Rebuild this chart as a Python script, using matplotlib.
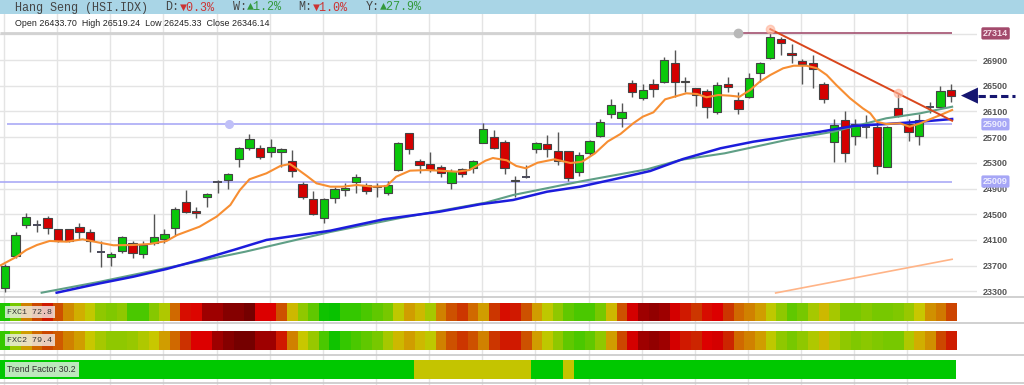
import matplotlib
matplotlib.use("Agg")
import matplotlib.pyplot as plt
import numpy as np
from matplotlib.colors import LinearSegmentedColormap
from matplotlib.patches import Rectangle, Polygon
from matplotlib.lines import Line2D
from matplotlib.transforms import blended_transform_factory

plt.rcParams['font.family'] = ['Liberation Sans', 'DejaVu Sans']

# ---------------- data ----------------
opens = [23353, 23850, 24328, 24340, 24437, 24270, 24270, 24301, 24228, 23915,
         23830, 23933, 24058, 23877, 24048, 24111, 24291, 24695, 24550, 24764,
         24999, 25033, 25355, 25536, 25526, 25474, 25464, 25329, 24971, 24737,
         24437, 24748, 24877, 24997, 24955, 24940, 24826, 25184, 25759, 25324,
         25282, 25235, 24982, 25209, 25215, 25613, 25707, 25619, 25035, 25082,
         25511, 25593, 25489, 25484, 25153, 25448, 25718, 26055, 25993, 26537,
         26313, 26527, 26562, 26858, 26573, 26460, 26422, 26086, 26527, 26278,
         26329, 26693, 26926, 27222, 27004, 26889, 26858, 26522, 25629, 25966,
         25722, 25858, 25862, 25240, 26148, 25904, 25722, 26166, 26164, 26433.70]
highs = [23730, 24219, 24524, 24410, 24473, 24275, 24275, 24369, 24265, 24084,
         23917, 24162, 24084, 24084, 24504, 24265, 24617, 24877, 24617, 24827,
         25033, 25142, 25545, 25744, 25578, 25666, 25526, 25500, 25006, 24866,
         24748, 24929, 24991, 25122, 24982, 24982, 25022, 25629, 25769, 25360,
         25474, 25266, 25204, 25224, 25344, 25915, 25811, 25655, 25095, 25266,
         25629, 25733, 25785, 25489, 25464, 25655, 25982, 26288, 26236, 26589,
         26527, 26600, 26951, 27056, 26631, 26469, 26449, 26562, 26640, 26407,
         26693, 26874, 27314, 27253, 27144, 26911, 26978, 26562, 25977, 26111,
         25977, 26044, 25940, 25873, 26371, 25977, 26055, 26251, 26495, 26519.24]
lows = [23283, 23825, 24281, 24228, 24193, 24068, 24068, 24111, 23917, 23684,
        23699, 23892, 23815, 23815, 24026, 24048, 24177, 24515, 24446, 24617,
        24835, 24893, 25235, 25500, 25355, 25396, 25240, 25075, 24737, 24488,
        24359, 24680, 24784, 24826, 24815, 24774, 24800, 25168, 25437, 25147,
        25163, 25075, 24889, 25075, 25137, 25604, 25511, 25126, 24774, 25060,
        25458, 25396, 25266, 25017, 25095, 25422, 25697, 26002, 25862, 26320,
        26278, 26320, 26537, 26320, 26407, 26184, 25993, 26055, 26407, 26055,
        26313, 26553, 26911, 26978, 26858, 26527, 26469, 26236, 25318, 25318,
        25578, 25682, 25126, 25230, 26008, 25644, 25578, 26071, 26148, 26245.33]
closes = [23700, 24172, 24462, 24335, 24286, 24084, 24084, 24228, 24084, 23910,
          23881, 24141, 23902, 24022, 24141, 24198, 24586, 24530, 24515, 24820,
          24995, 25126, 25531, 25666, 25396, 25552, 25521, 25178, 24774, 24504,
          24733, 24898, 24913, 25075, 24866, 24925, 24955, 25613, 25520, 25271,
          25184, 25137, 25173, 25122, 25333, 25822, 25536, 25215, 25010, 25077,
          25613, 25511, 25329, 25060, 25422, 25635, 25931, 26200, 26086, 26407,
          26433, 26444, 26900, 26562, 26553, 26355, 26164, 26511, 26485, 26133,
          26615, 26858, 27260, 27160, 26973, 26838, 26755, 26289, 25884, 25448,
          25904, 25862, 25255, 25862, 26029, 25784, 25966, 26162, 26422, 26346.14]

# fast moving average (orange), sampled along the line
ma_fast_idx = [-0.4, 1.1, 2.0, 3.0, 4.2, 5.8, 7.3, 8.9, 10.2, 12.0, 13.6, 15.2, 16.2, 18.3,
               19.9, 21.2, 22.1, 23.0, 24.6, 25.9, 26.8, 27.4, 28.4, 29.3, 30.6, 31.8, 33.1,
               34.6, 35.9, 36.8, 38.1, 39.7, 40.9, 42.5, 43.7, 45.2, 45.9, 47.2, 48.1, 49.0,
               50.1, 51.7, 53.2, 54.3, 55.5, 56.7, 57.9, 59.1, 60.0, 61.0, 62.1, 63.2, 64.1,
               65.1, 66.0, 67.1, 68.2, 69.1, 70.1, 71.0, 72.0, 73.2, 74.2, 75.4, 76.4, 77.3,
               78.2, 79.5, 80.7, 81.4, 82.0, 82.9, 84.2, 85.1, 86.1, 87.0, 88.0, 89.1]
ma_fast_val = [23706, 23839, 23944, 24021, 24084, 24073, 24110, 24057, 24017, 24021, 24037,
               24084, 24177, 24306, 24462, 24644, 24877, 25044, 25137, 25251, 25282, 25215,
               25095, 24981, 24929, 24929, 24955, 24929, 24939, 25084, 25178, 25188, 25178,
               25162, 25188, 25333, 25375, 25339, 25251, 25215, 25302, 25355, 25297, 25318,
               25448, 25632, 25749, 25915, 26018, 26086, 26288, 26340, 26382, 26371, 26320,
               26355, 26345, 26329, 26433, 26562, 26667, 26771, 26811, 26811, 26771, 26667,
               26511, 26304, 26148, 26071, 25940, 25904, 25915, 25862, 25915, 25977, 26044,
               26122]

# slow moving average (blue)
ma_blue_idx = [4.86, 8.94, 12.07, 15.2, 18.3, 21.5, 24.6, 27.8, 30.6, 35.6, 40.9, 44.7, 47.8,
               51.0, 54.1, 57.4, 60.7, 63.8, 67.3, 70.4, 73.5, 76.7, 79.8, 82.9, 86.1, 89.1]
ma_blue_val = [23279, 23425, 23528, 23648, 23788, 23944, 24100, 24177, 24244, 24421, 24540,
               24655, 24722, 24851, 24929, 25048, 25173, 25360, 25526, 25629, 25707, 25784,
               25873, 25904, 25940, 25982]

# medium-slow moving average (teal)
ma_teal_idx = [3.45, 8.94, 15.2, 22.6, 30.6, 37.2, 45.2, 47.8, 54.1, 60.4, 63.5, 67.7, 73.5,
               77.9, 82.9, 86.1, 89.1]
ma_teal_val = [23279, 23450, 23664, 23917, 24224, 24442, 24680, 24799, 25009, 25199, 25344,
               25448, 25655, 25784, 25993, 26071, 26173]

# very slow moving average (light orange)
ma_long_idx = [72.5, 89.1]
ma_long_val = [23275, 23799]

# descending trend line through highs
trend_idx = [72, 84, 89.1]
trend_val = [27380, 26380, 25955]

# horizontal levels
level_high = 27314
level_high_start = 69
level_mid = 25900
level_mid_dot = 21.07
level_low = 25009

price_ticks = [23300, 23700, 24100, 24500, 24900, 25300, 25700, 26100, 26500, 26900]
grid_levels = price_ticks + [27300]

# oscillator strips (0-100)
fxc1 = [10, 30, 60, 72, 80, 70, 58, 52, 46, 35,
        32, 35, 20, 20, 33, 42, 65, 82, 83, 90,
        90, 94, 94, 97, 84, 84, 70, 50, 35, 25,
        5, 3, 15, 15, 20, 25, 30, 45, 55, 50,
        40, 60, 70, 75, 65, 55, 75, 82, 80, 70,
        55, 45, 35, 25, 20, 20, 30, 50, 70, 85,
        90, 92, 90, 85, 80, 75, 82, 84, 75, 65,
        60, 55, 45, 35, 25, 30, 40, 50, 40, 30,
        30, 33, 30, 30, 32, 37, 47, 57, 62, 72.8]
fxc2 = [15, 38, 55, 65, 72, 68, 60, 55, 47, 40,
        35, 35, 37, 42, 47, 55, 65, 76, 84, 84,
        90, 94, 97, 97, 90, 90, 80, 60, 47, 37,
        20, 5, 15, 20, 25, 30, 40, 50, 55, 50,
        45, 60, 70, 75, 70, 60, 75, 80, 80, 70,
        55, 45, 35, 25, 20, 25, 35, 55, 72, 85,
        90, 92, 90, 85, 80, 78, 84, 85, 78, 65,
        60, 55, 45, 35, 30, 35, 42, 50, 42, 35,
        32, 34, 32, 30, 30, 42, 52, 57, 72, 79.4]
fxc1_label = "FXC1 72.8"
fxc2_label = "FXC2 79.4"
trend_runs = [(39, 'up'), (11, 'flat'), (3, 'up'), (1, 'flat'), (36, 'up')]
trend_label = "Trend Factor 30.2"

# ---------------- figure ----------------
W, H = 1024, 385
fig = plt.figure(figsize=(W / 100, H / 100), dpi=100)
fig.patch.set_facecolor('white')


def fx(px):
    return px / W


def fy(py):
    return 1 - py / H


n = len(closes)
idx = np.arange(n)
XMIN, XMAX = -0.47, 91.44
YMIN, YMAX = 23212, 27616
PLOT_R = 977

# header bar
fig.patches.append(Rectangle((0, fy(14)), 1, 14 / H, transform=fig.transFigure,
                             facecolor='#a9d5e6', edgecolor='none', zorder=0))
mono = ['Liberation Mono', 'DejaVu Sans Mono']
fig.text(fx(15), fy(7.5), "Hang Seng (HSI.IDX)", family=mono, fontsize=8.5,
         color='#454545', va='center')
hdr = [(165.5, "D:", "\u25bc0.3%", '#cc3333'), (233, "W:", "\u25b21.2%", '#33993a'),
       (298.5, "M:", "\u25bc1.0%", '#cc3333'), (366, "Y:", "\u25b227.9%", '#33993a')]
for x0, k, v, c in hdr:
    fig.text(fx(x0), fy(7.5), k, family=mono, fontsize=8.5, color='#454545', va='center')
    fig.text(fx(x0 + 14.2), fy(7.5), v, family=mono, fontsize=8.5, color=c, va='center')

fig.text(fx(15), fy(23.5), "Open 26433.70  High 26519.24  Low 26245.33  Close 26346.14",
         fontsize=6.4, color='#222222', va='center')

# background axes for vertical grid
bg = fig.add_axes([0, 0, fx(PLOT_R), fy(14)])
bg.set_xlim(XMIN, XMAX)
bg.set_ylim(0, 1)
bg.axis('off')
for g in np.arange(0, 90, 5) - 0.1:
    bg.axvline(g, color='#e4e4e4', lw=1.0, zorder=0)

# main axes
ax = fig.add_axes([0, fy(297), fx(PLOT_R), (297 - 14) / H])
ax.set_facecolor('none')
ax.set_xlim(XMIN, XMAX)
ax.set_ylim(YMIN, YMAX)
for s in ax.spines.values():
    s.set_visible(False)
ax.set_xticks([])
for lv in grid_levels:
    ax.axhline(lv, color='#e4e4e4', lw=1.0, zorder=0)
ax.yaxis.tick_right()
ax.set_yticks(price_ticks)
ax.set_yticklabels([str(t) for t in price_ticks], fontsize=6.5, color='#555555',
                   fontweight='bold')
ax.tick_params(axis='y', length=0, pad=4.3)

# level lines
ax.hlines(level_low, XMIN, 89.1, color='#aaaaf6', lw=1.2, zorder=1)
ax.hlines(level_mid, 0.19, 89.1, color='#aaaaf6', lw=1.2, zorder=1)
ax.plot([level_mid_dot], [level_mid], 'o', ms=5.5, color='#c0c0f8', zorder=2)
ax.hlines(level_high, XMIN, level_high_start, color='#d2d2d2', lw=2.0, zorder=1)
ax.hlines(level_high, level_high_start, 89.1, color='#a3506f', lw=1.2, zorder=1)
ax.plot([level_high_start], [level_high], 'o', ms=6, color='#b8b8b8', zorder=2)

# candles
bw = 0.78
for i in range(n):
    o, h, l, c = opens[i], highs[i], lows[i], closes[i]
    ax.vlines(i, l, h, color='#555555', lw=1.0, zorder=3)
    if abs(c - o) < 15:
        ax.hlines(o, i - bw / 2, i + bw / 2, color='#4a4a5a', lw=1.4, zorder=4)
        continue
    col = '#0ac80a' if c > o else '#d40000'
    ax.add_patch(Rectangle((i - bw / 2, min(o, c)), bw, abs(c - o), facecolor=col,
                           edgecolor='#444444', lw=0.8, zorder=4))

# moving averages
ax.plot(ma_long_idx, ma_long_val, color='#ffb487', lw=1.2, zorder=5)
ax.plot(ma_teal_idx, ma_teal_val, color='#5f9f86', lw=1.5, zorder=5)
ax.plot(ma_blue_idx, ma_blue_val, color='#1c1cdc', lw=1.8, zorder=5)
ax.plot(ma_fast_idx, ma_fast_val, color='#f78e32', lw=1.5, zorder=6)

# trend line
ax.plot(trend_idx, trend_val, color='#d9461c', lw=1.4, zorder=7)
ax.plot(trend_idx[:2], trend_val[:2], 'o', ms=6, color='#ffb49a', alpha=0.6, zorder=7)

# right level labels
tr = blended_transform_factory(ax.transAxes, ax.transData)
xl = 983 / PLOT_R
for val, fc, tc in [(level_high, '#a34a6c', '#f6dde8'), (level_mid, '#a6a6f6', '#eeeeff'),
                    (level_low, '#a6a6f6', '#eeeeff')]:
    ax.text(xl, val, str(val), transform=tr, fontsize=6.5, color=tc, va='center',
            ha='left', fontweight='bold',
            bbox=dict(boxstyle='round,pad=0.18', fc=fc, ec='none'), zorder=8, clip_on=False)

# last price arrow
lc = closes[-1]
ax.add_patch(Polygon([(89.93, lc), (91.53, lc + 125), (91.53, lc - 125)], closed=True,
                     facecolor='#161670', edgecolor='none', clip_on=False, zorder=9))
ax.plot([91.5, 95.0], [lc, lc], color='#161670', lw=2.2, dashes=(2.4, 1.3),
        solid_capstyle='butt', dash_capstyle='butt', clip_on=False, zorder=9)

# oscillator strips
cmap = LinearSegmentedColormap.from_list('fxc', [
    (0.00, '#00c000'), (0.10, '#20c800'), (0.25, '#60c800'), (0.35, '#90c800'),
    (0.42, '#b0c800'), (0.47, '#c8c800'), (0.52, '#d0b000'), (0.57, '#d09000'),
    (0.62, '#d07800'), (0.67, '#d06000'), (0.73, '#cc4400'), (0.79, '#cc2000'),
    (0.84, '#e00000'), (0.90, '#a00000'), (0.95, '#800000'), (1.00, '#680000')])


def strip(y0, y1):
    a = fig.add_axes([0, fy(y1), fx(PLOT_R), (y1 - y0) / H])
    a.set_xlim(XMIN, XMAX)
    a.set_ylim(0, 1)
    a.axis('off')
    return a


for (y0, y1), vals, lab in [((303.3, 320.7), fxc1, fxc1_label), ((331, 349.7), fxc2, fxc2_label)]:
    a = strip(y0, y1)
    a.imshow(np.array(vals)[None, :] / 100.0, cmap=cmap, vmin=0, vmax=1, aspect='auto',
             interpolation='nearest', extent=(-0.5, n - 0.5, 0, 1))
    a.set_xlim(XMIN, XMAX)
    a.set_ylim(0, 1)
    fig.text(fx(7.3), fy((y0 + y1) / 2), lab, family=mono, fontsize=6.0, color='#333333',
             va='center', bbox=dict(boxstyle='square,pad=0.3', fc='#f2f2f2', ec='none', alpha=0.78))

a = strip(360, 379.3)
tcolors = {'up': '#00c800', 'flat': '#c4c400'}
start = 0
for cnt, st in trend_runs:
    a.add_patch(Rectangle((start - 0.5, 0), cnt, 1, facecolor=tcolors[st], edgecolor='none'))
    start += cnt
fig.text(fx(7.3), fy(369.5), trend_label, fontsize=6.2, color='#333333', va='center',
         bbox=dict(boxstyle='square,pad=0.3', fc='#f2f2f2', ec='none', alpha=0.78))

# separators
for ys in [297.3, 323.3, 355, 383.3]:
    fig.add_artist(Line2D([0, 1], [fy(ys), fy(ys)], transform=fig.transFigure,
                          color='#c8c8c8', lw=1.2))

fig.savefig('out.png', dpi=100)
